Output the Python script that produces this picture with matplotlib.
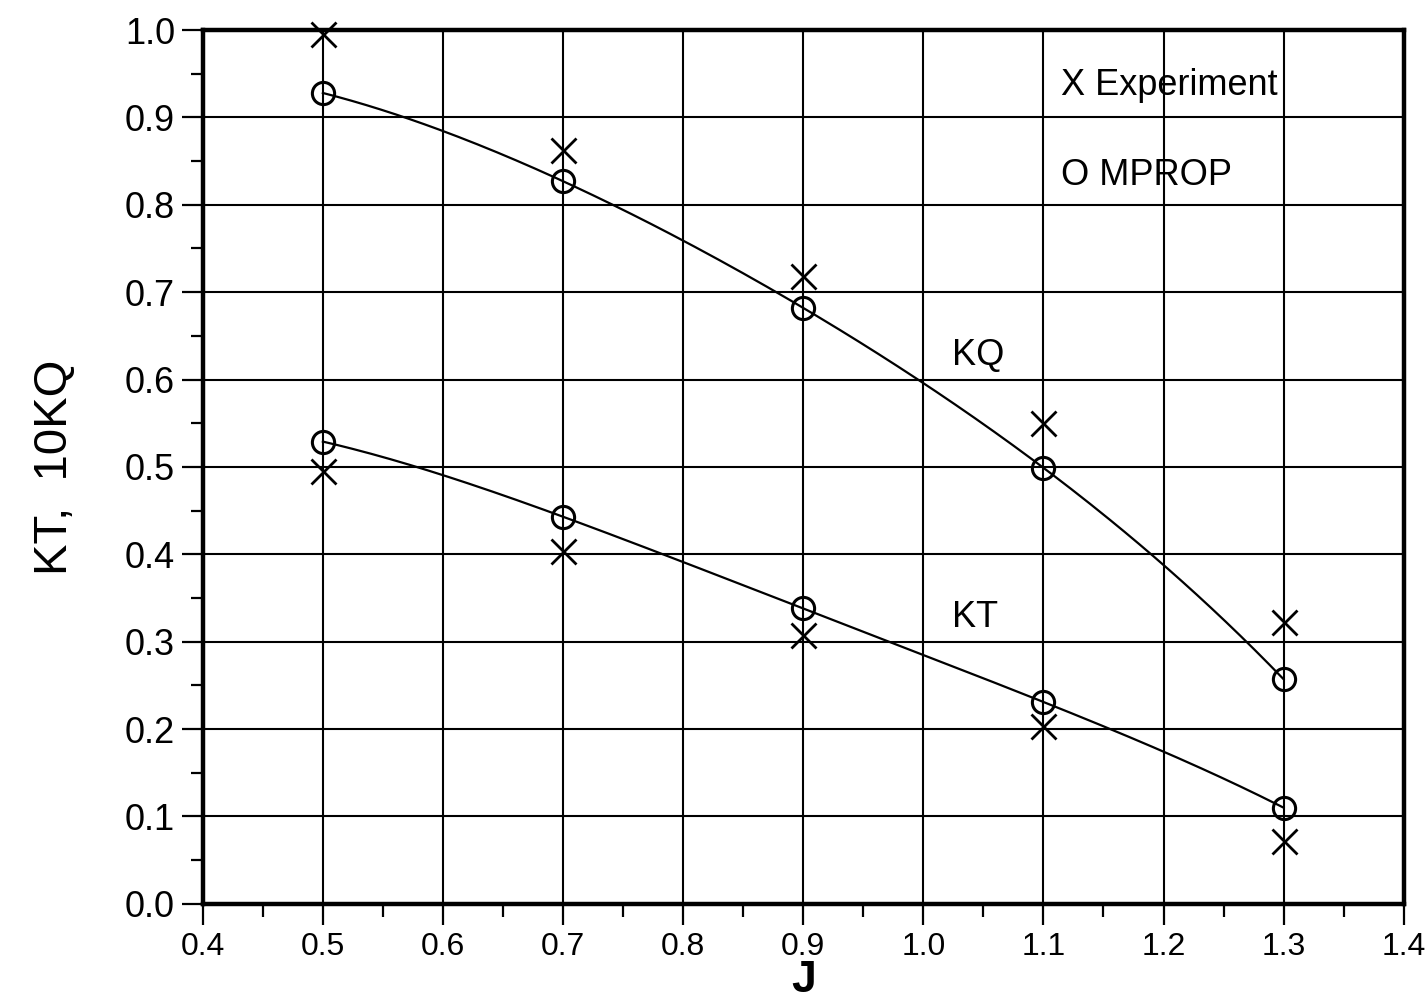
import numpy as np
import matplotlib
matplotlib.use('Agg')
import matplotlib.pyplot as plt
from matplotlib.ticker import MultipleLocator

plt.rcParams['font.family'] = ['Liberation Sans', 'DejaVu Sans']

# advance coefficient
J = [0.5, 0.7, 0.9, 1.1, 1.3]

# 10KQ
kq_exp = [0.995, 0.863, 0.719, 0.550, 0.322]
kq_mprop = [0.928, 0.827, 0.682, 0.499, 0.257]

# KT
kt_exp = [0.495, 0.404, 0.308, 0.204, 0.072]
kt_mprop = [0.529, 0.443, 0.338, 0.231, 0.110]

fig = plt.figure(figsize=(14.28, 10.02), dpi=100)
ax = fig.add_axes([0.142, 0.098, 0.841, 0.872])

# smooth curve through the MPROP points
xs = np.linspace(J[0], J[-1], 200)
for ys in (kq_mprop, kt_mprop):
    c = np.polyfit(J, ys, 4)
    ax.plot(xs, np.polyval(c, xs), color='k', lw=1.6, zorder=3)

ax.plot(J, kq_mprop, 'o', ms=16, mfc='none', mec='k', mew=2.2, zorder=4)
ax.plot(J, kt_mprop, 'o', ms=16, mfc='none', mec='k', mew=2.2, zorder=4)
ax.plot(J, kq_exp, 'x', ms=18, mec='k', mew=2.0, zorder=4, clip_on=False)
ax.plot(J, kt_exp, 'x', ms=18, mec='k', mew=2.0, zorder=4)

ax.set_xlim(0.4, 1.4)
ax.set_ylim(0.0, 1.0)
ax.xaxis.set_major_locator(MultipleLocator(0.1))
ax.xaxis.set_minor_locator(MultipleLocator(0.05))
ax.yaxis.set_major_locator(MultipleLocator(0.1))
ax.yaxis.set_minor_locator(MultipleLocator(0.05))
ax.xaxis.set_major_formatter(lambda v, p: f'{v:.1f}')
ax.yaxis.set_major_formatter(lambda v, p: f'{v:.1f}')

ax.grid(True, which='major', color='k', lw=1.5)
ax.tick_params(which='major', direction='out', length=15, width=1.6,
               labelsize=26, pad=5, colors='k')
ax.tick_params(axis='x', which='major', labelsize=23)
ax.tick_params(which='minor', direction='out', length=9, width=1.6)
for s in ax.spines.values():
    s.set_linewidth(3.2)

ax.text(1.024, 0.628, 'KQ', fontsize=26, va='center', ha='left')
ax.text(1.024, 0.328, 'KT', fontsize=26, va='center', ha='left')
ax.text(1.115, 0.937, 'X Experiment', fontsize=26, va='center', ha='left')
ax.text(1.115, 0.834, 'O MPROP', fontsize=26, va='center', ha='left')

ax.set_xlabel('J', fontsize=32, fontweight='bold')
ax.xaxis.set_label_coords(0.5, -0.088)
ax.xaxis.label.set_va('center')
ax.set_ylabel('KT,  10KQ', fontsize=34)
ax.yaxis.set_label_coords(-0.123, 0.5)
ax.yaxis.label.set_va('center')

fig.savefig('out.png', dpi=100, facecolor='white')
